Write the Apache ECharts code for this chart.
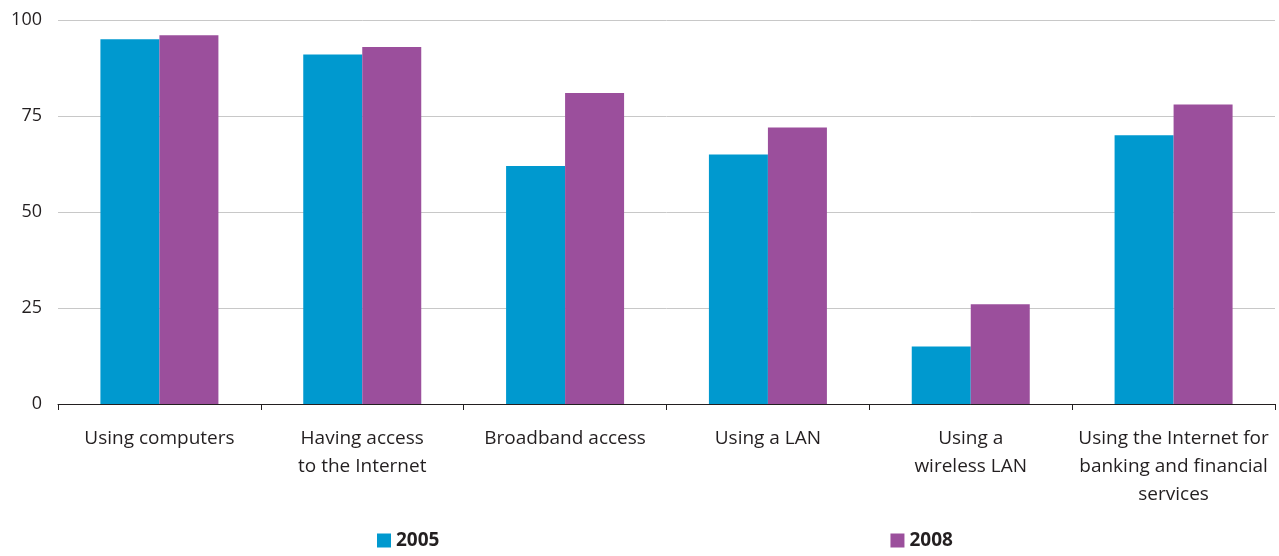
<!DOCTYPE html>
<html>
<head>
<meta charset="utf-8">
<script src="https://cdn.jsdelivr.net/npm/echarts@6/dist/echarts.min.js"></script>
<style>
  html, body { margin: 0; padding: 0; background: #fff; }
  #chart { width: 1279px; height: 556px; }
</style>
</head>
<body>
<div id="chart"></div>
<script>
// Share of enterprises (%) by ICT usage, 2005 vs 2008
const categories = [
  'Using computers',
  'Having access\nto the Internet',
  'Broadband access',
  'Using a LAN',
  'Using a\nwireless LAN',
  'Using the Internet for\nbanking and financial\nservices'
];
const values2005 = [95, 91, 62, 65, 15, 70];
const values2008 = [96, 93, 81, 72, 26, 78];
const yTicks = [0, 25, 50, 75, 100];

const FONT = '"Open Sans", Lato, sans-serif';
const chart = echarts.init(document.getElementById('chart'), null, { renderer: 'canvas' });

chart.setOption({
  animation: false,
  grid: { left: 58, right: 4, top: 20, bottom: 152, containLabel: false },
  legend: {
    bottom: 1,
    left: 372,
    itemWidth: 14,
    itemHeight: 14,
    itemGap: 451,
    icon: 'rect',
    textStyle: { fontFamily: FONT, fontSize: 19, fontWeight: 'bold', color: '#231f20' },
    data: ['2005', '2008']
  },
  xAxis: {
    type: 'category',
    data: categories,
    axisLine: { lineStyle: { color: '#231f20', width: 1 } },
    axisTick: { show: true, length: 6, lineStyle: { color: '#231f20' } },
    axisLabel: {
      interval: 0,
      margin: 21,
      fontFamily: FONT,
      fontSize: 19,
      lineHeight: 28,
      color: '#231f20',
      align: 'center'
    }
  },
  yAxis: {
    type: 'value',
    min: 0,
    max: 100,
    interval: 25,
    axisLine: { show: false },
    axisTick: { show: false },
    splitLine: { lineStyle: { color: '#c8c8c8', width: 1 } },
    axisLabel: {
      margin: 16,
      fontFamily: FONT,
      fontSize: 18,
      color: '#231f20',
      formatter: v => yTicks.includes(v) ? String(v) : ''
    }
  },
  series: [
    {
      name: '2005',
      type: 'bar',
      data: values2005,
      barWidth: 59,
      barGap: '0%',
      itemStyle: { color: '#0099cf' }
    },
    {
      name: '2008',
      type: 'bar',
      data: values2008,
      barWidth: 59,
      itemStyle: { color: '#9b4f9c' }
    }
  ]
});
</script>
</body>
</html>
